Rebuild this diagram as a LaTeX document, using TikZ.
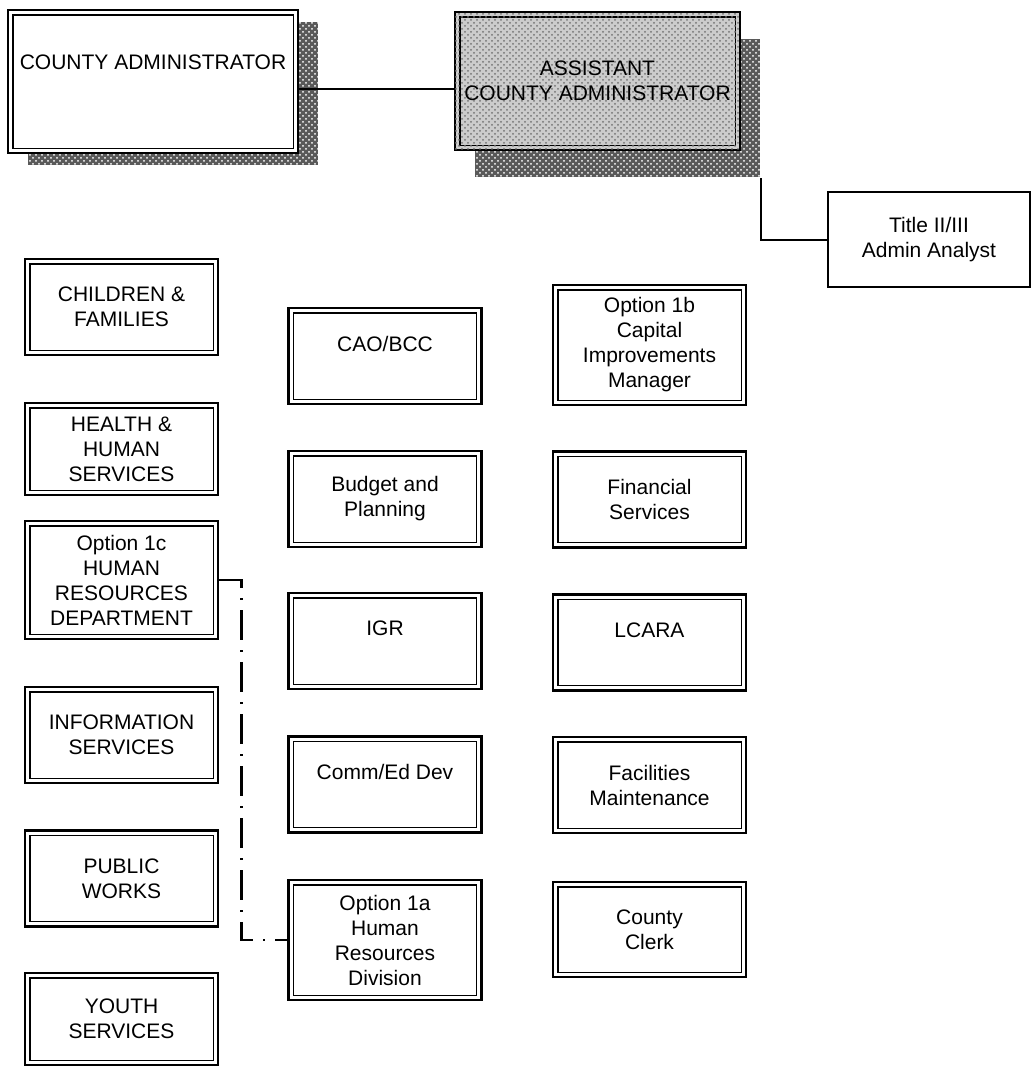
\documentclass[tikz,border=0pt]{standalone}
\usepackage{fontspec}
\setmainfont{Liberation Sans}
\usetikzlibrary{shadows,patterns}

\tikzset{
  unitbox/.style = {draw, line width=1.4pt, fill=white, align=center,
      font=\fontsize{10.5}{12.5}\selectfont, inner sep=1pt,
      minimum width=96.5pt, minimum height=48pt,
      path picture={\draw[line width=0.7pt]
          ([shift={(2.4pt,2.4pt)}]path picture bounding box.south west) rectangle
          ([shift={(-2.4pt,-2.4pt)}]path picture bounding box.north east);}},
  bossshadow/.style = {
      drop shadow={shadow xshift=10pt, shadow yshift=#1, opacity=1, fill=black!65},
      drop shadow={shadow xshift=10pt, shadow yshift=#1, opacity=1, fill=none,
          pattern=crosshatch dots, pattern color=white}},
  speckled/.style = {fill=gray!40,
      postaction={pattern=crosshatch dots, pattern color=black!55}},
  link/.style = {line width=1pt},
  hrlink/.style = {line width=1.1pt, dash pattern=on 15pt off 5pt on 1pt off 5pt},
}

\begin{document}
\begin{tikzpicture}[x=0.5pt, y=-0.5pt]
  \useasboundingbox (0,0) rectangle (1033,1067);

  % top of the chart
  \node[unitbox, bossshadow=-6pt, minimum width=145pt, minimum height=71.5pt]
  (ca) at (153,81.5) {COUNTY ADMINISTRATOR\\[6.5pt]~};
  \node[unitbox, bossshadow=-13.5pt, speckled, minimum width=142.5pt, minimum height=69pt]
  (aca) at (597.5,81) {ASSISTANT\\COUNTY ADMINISTRATOR};
  \node[draw, line width=1.1pt, align=center, font=\fontsize{10.5}{12.5}\selectfont,
    minimum width=101pt, minimum height=47.5pt]
  (title) at (929,239.5) {Title II/III\\Admin Analyst};

  % left column
  \node[unitbox] (cf) at (121.5,307) {CHILDREN \&\\FAMILIES};
  \node[unitbox, minimum height=46pt] (hhs) at (121.5,449) {HEALTH \&\\HUMAN\\SERVICES};
  \node[unitbox, minimum height=59pt] (hr1) at (121.5,580)
  {Option 1c\\HUMAN\\RESOURCES\\DEPARTMENT};
  \node[unitbox] (info) at (121.5,735) {INFORMATION\\SERVICES};
  \node[unitbox] (pw) at (121.5,878.5) {PUBLIC\\WORKS};
  \node[unitbox, minimum height=46pt] (youth) at (121.5,1019) {YOUTH\\SERVICES};

  % middle column
  \node[unitbox] (cao) at (385,356) {CAO/BCC\\~};
  \node[unitbox] (budget) at (385,499) {Budget and\\Planning};
  \node[unitbox] (igr) at (385,641) {IGR\\~};
  \node[unitbox] (comm) at (385,784.5) {Comm/Ed Dev\\~};
  \node[unitbox, minimum height=60pt] (hr2) at (385,940)
  {Option 1a\\Human\\Resources\\Division};

  % right column
  \node[unitbox, minimum height=60pt] (cim) at (649.5,345)
  {Option 1b\\Capital\\Improvements\\Manager};
  \node[unitbox] (fin) at (649.5,499.5) {Financial\\Services};
  \node[unitbox] (lcara) at (649.5,642.5) {LCARA\\~};
  \node[unitbox] (fac) at (649.5,785) {Facilities\\Maintenance};
  \node[unitbox, minimum height=47.5pt] (clerk) at (649.5,929.5) {County\\Clerk};

  \draw[link] ([yshift=-3.5pt]ca.east) -- ([yshift=-3.5pt]ca.east -| aca.west);
  \draw[link] ([shift={(10pt,-13.5pt)}]aca.south east) |- (title.west);
  \draw[hrlink] (hr1.east) -- ++(11pt,0) |- (hr2.west);

\end{tikzpicture}
\end{document}
